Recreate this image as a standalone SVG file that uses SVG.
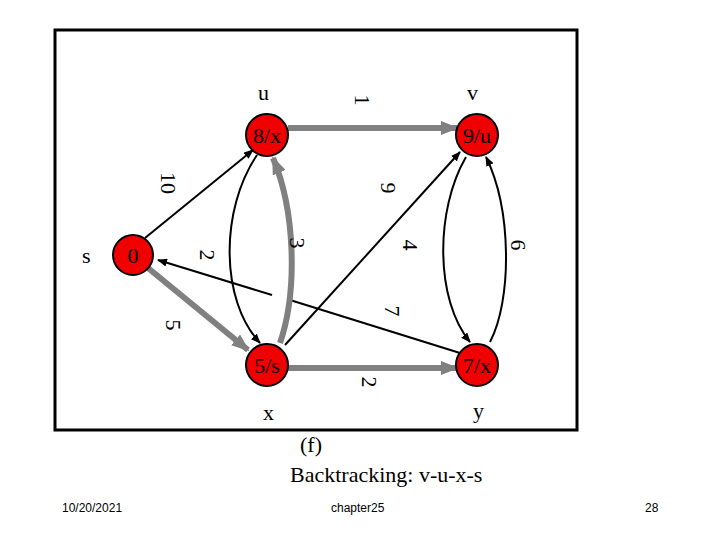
<svg xmlns="http://www.w3.org/2000/svg" width="720" height="540" viewBox="0 0 720 540">
<style>
.n{fill:#f00000;stroke:#000;stroke-width:2}
.t{font-family:"Liberation Serif",serif;font-size:22px;fill:#000}
.nl{font-family:"Liberation Serif",serif;font-size:22px;fill:#000;text-anchor:middle}
.thin{stroke:#000;stroke-width:2;fill:none;marker-end:url(#ab)}
.thick{stroke:#808080;stroke-width:6;fill:none;marker-end:url(#ag)}
.f{font-family:"Liberation Sans",sans-serif;font-size:12px;fill:#000}
</style>
<defs>
<marker id="ab" markerWidth="10" markerHeight="8" refX="9" refY="4" orient="auto" markerUnits="userSpaceOnUse"><path d="M0,0L10,4L0,8z" fill="#000"/></marker>
<marker id="ag" markerWidth="18" markerHeight="14" refX="16" refY="7" orient="auto" markerUnits="userSpaceOnUse"><path d="M0,0L18,7L0,14z" fill="#808080"/></marker>
</defs>
<rect x="55" y="30" width="522" height="400" fill="#fff" stroke="#000" stroke-width="3"/>
<g id="connectors">
<path class="thin" d="M145,238L253,150"/>
<path class="thin" d="M257,155C220,210 220,300 260,343"/>
<path class="thin" d="M285,345L460,152"/>
<path class="thin" d="M466,157C435,210 435,300 470,342"/>
<path class="thin" d="M490,342C512,300 512,210 486,157"/>
<path d="M460,353L290,300" stroke="#000" stroke-width="2" fill="none"/>
<path class="thin" d="M272,295L158,260"/>
<path class="thick" d="M280,343C298,290 295,210 273,158"/>
<path class="thick" d="M288,128L457,128"/>
<path class="thick" d="M148,268L248,350"/>
<path class="thick" d="M288,368L457,368"/>
</g>
<g id="s"><circle class="n" cx="133" cy="255" r="20"/><text class="nl" x="133" y="263">0</text></g>
<g id="u"><circle class="n" cx="267" cy="135" r="21"/><text class="nl" x="267" y="143">8/x</text></g>
<g id="v"><circle class="n" cx="477" cy="135" r="21"/><text class="nl" x="477" y="143">9/u</text></g>
<g id="x"><circle class="n" cx="267" cy="365" r="21"/><text class="nl" x="267" y="373">5/s</text></g>
<g id="y"><circle class="n" cx="477" cy="365" r="21"/><text class="nl" x="477" y="373">7/x</text></g>
<g id="labels">
<text class="t" x="258" y="100">u</text>
<text class="t" x="467" y="100">v</text>
<text class="t" x="82" y="263">s</text>
<text class="t" x="263" y="420">x</text>
<text class="t" x="473" y="418">y</text>
<text class="t" transform="translate(355,100) rotate(90)" text-anchor="middle">1</text>
<text class="t" transform="translate(161,183) rotate(90)" text-anchor="middle">10</text>
<text class="t" transform="translate(381,188) rotate(90)" text-anchor="middle">9</text>
<text class="t" transform="translate(200,255) rotate(90)" text-anchor="middle">2</text>
<text class="t" transform="translate(290,243) rotate(90)" text-anchor="middle">3</text>
<text class="t" transform="translate(403,245) rotate(90)" text-anchor="middle">4</text>
<text class="t" transform="translate(511,245) rotate(90)" text-anchor="middle">6</text>
<text class="t" transform="translate(385,311) rotate(90)" text-anchor="middle">7</text>
<text class="t" transform="translate(166,325) rotate(90)" text-anchor="middle">5</text>
<text class="t" transform="translate(362,382) rotate(90)" text-anchor="middle">2</text>
<text class="t" x="300" y="452">(f)</text>
<text class="t" x="290" y="482">Backtracking: v-u-x-s</text>
<text class="f" x="62" y="512">10/20/2021</text>
<text class="f" x="331" y="512">chapter25</text>
<text class="f" x="645" y="512">28</text>
</g>
</svg>
